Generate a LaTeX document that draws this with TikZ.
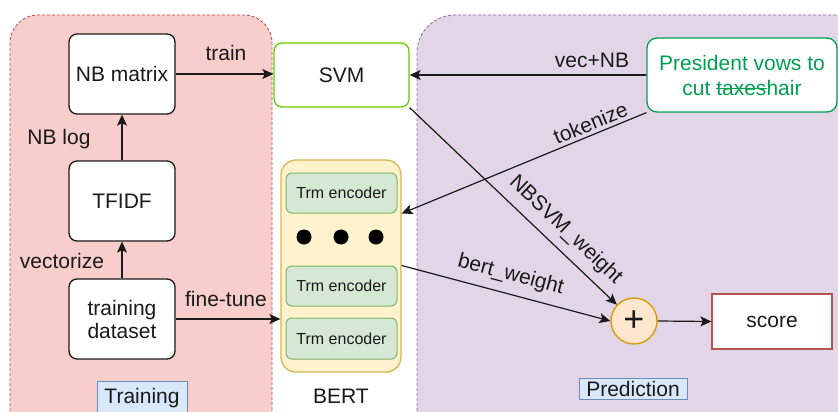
\documentclass[tikz,border=0pt]{standalone}
\usepackage{fontspec}
\setmainfont{Liberation Sans}
\usetikzlibrary{arrows.meta}
\newlength\mystrklen
\newcommand\mystrike[1]{\settowidth\mystrklen{#1}\rlap{#1}\rule[0.27em]{\mystrklen}{0.07em}}
\definecolor{trainfill}{HTML}{F8CECC}
\definecolor{trainline}{HTML}{B85450}
\definecolor{predfill}{HTML}{E1D5E7}
\definecolor{predline}{HTML}{9673A6}
\definecolor{svmline}{HTML}{66CC00}
\definecolor{bertfill}{HTML}{FFF2CC}
\definecolor{bertline}{HTML}{D6B656}
\definecolor{encfill}{HTML}{D5E8D4}
\definecolor{encline}{HTML}{82B366}
\definecolor{labfill}{HTML}{DAE8FC}
\definecolor{labline}{HTML}{6C8EBF}
\definecolor{presgreen}{HTML}{00A050}
\definecolor{plusfill}{HTML}{FFE6CC}
\definecolor{plusline}{HTML}{D79B00}
\definecolor{txt}{HTML}{1A1A1A}
\tikzset{
  panel/.style={dashed, line width=0.9pt, dash pattern=on 3pt off 2pt},
  wbox/.style={draw=txt, fill=white, line width=1.3pt, rounded corners=8pt, minimum width=106pt, minimum height=80pt, align=center, font=\fontsize{21}{24}\selectfont, text=txt},
  encbox/.style={draw=encline, fill=encfill, line width=1pt, rounded corners=6pt, minimum width=111pt, minimum height=40pt, font=\fontsize{16}{18}\selectfont, text=txt},
  lab/.style={font=\fontsize{21}{24}\selectfont, text=txt},
  arr/.style={draw=txt, line width=1.2pt, -{Stealth[length=11pt,width=10pt,inset=2.5pt]}},
  dotc/.style={circle, fill=black, minimum size=15pt, inner sep=0pt},
  tagbox/.style={draw=labline, fill=labfill, line width=1pt, inner sep=0pt, font=\fontsize{21}{24}\selectfont, text=txt}
}
\begin{document}
\begin{tikzpicture}[x=1pt,y=-1pt]
\useasboundingbox (0,0) rectangle (838,412);
\clip (0,0) rectangle (838,412);
\fill[white] (0,0) rectangle (838,412);
% panels
\path[panel, fill=trainfill, draw=trainline, rounded corners=28pt] (10,15) rectangle (272,445);
\path[panel, fill=predfill, draw=predline, rounded corners=38pt] (417,15) rectangle (890,445);

% training column
\node[wbox] (nb) at (122,74) {NB matrix};
\node[wbox] (tfidf) at (122,201) {TFIDF};
\node[wbox] (train) at (122,319) {training\\[-1pt]dataset};
\node[lab] (nblog) at (59,139) {NB log};
\node[lab] (vect) at (62,261) {vectorize};
\node[tagbox, minimum width=90pt, minimum height=34pt] (traintag) at (142,398) {Training};

% SVM
\node[draw=svmline, fill=white, line width=1.3pt, rounded corners=8pt, minimum width=135pt, minimum height=64pt, lab] (svm) at (341.5,75) {SVM};
\node[lab] (trainlab) at (226,53) {train};
\node[lab] (ftlab) at (226,299) {fine-tune};

% BERT
\node[draw=bertline, fill=bertfill, line width=1.3pt, rounded corners=15pt, minimum width=120pt, minimum height=212pt] (bert) at (341,266) {};
\node[encbox] (enc1) at (341.5,193) {Trm encoder};
\node[encbox] (enc2) at (341.5,286) {Trm encoder};
\node[encbox, minimum height=41pt] (enc3) at (341.5,338.5) {Trm encoder};
\node[dotc] (d1) at (304,237) {};
\node[dotc] (d2) at (341,237) {};
\node[dotc] (d3) at (376,237) {};
\node[lab] (bertlab) at (341,396) {BERT};

% prediction
\node[draw=presgreen, fill=white, line width=1.3pt, rounded corners=10pt, minimum width=190pt, minimum height=74pt, align=center, font=\fontsize{21}{25}\selectfont, text=presgreen] (pres) at (742,75) {President vows to\\cut \mystrike{taxes}hair};
\node[lab] (veclab) at (592,60) {vec+NB};
\node[circle, draw=plusline, fill=plusfill, line width=1.3pt, minimum size=46pt, inner sep=0pt, font=\fontsize{36}{38}\selectfont, text=txt] (plus) at (634,321) {+};
\node[draw=trainline, fill=white, line width=1.2pt, minimum width=120pt, minimum height=55pt, lab] (score) at (772,321.5) {score};
\node[tagbox, minimum width=108pt, minimum height=21pt] (predtag) at (633,388.5) {Prediction};

% connectors
\draw[arr] (nb.east) -- (svm.west |- nb.east);
\draw[arr] (tfidf.north) -- (nb.south);
\draw[arr] (train.north) -- (tfidf.south);
\draw[arr] (train.east) -- (bert.west |- train.east);
\draw[arr] (pres.west) -- (svm.east);
\draw[arr] (pres.south west) -- node[lab, sloped, above, pos=0.21] {tokenize} (enc1.south -| bert.east);
\draw[arr] (svm.south east) -- node[lab, sloped, above=5pt, pos=0.69] {NBSVM\_weight} (plus);
\draw[arr] (enc2.north -| bert.east) -- node[lab, sloped, above=5pt, pos=0.5] {bert\_weight} (plus.west);
\draw[arr] (plus.east) -- (score.west);
\end{tikzpicture}
\end{document}
